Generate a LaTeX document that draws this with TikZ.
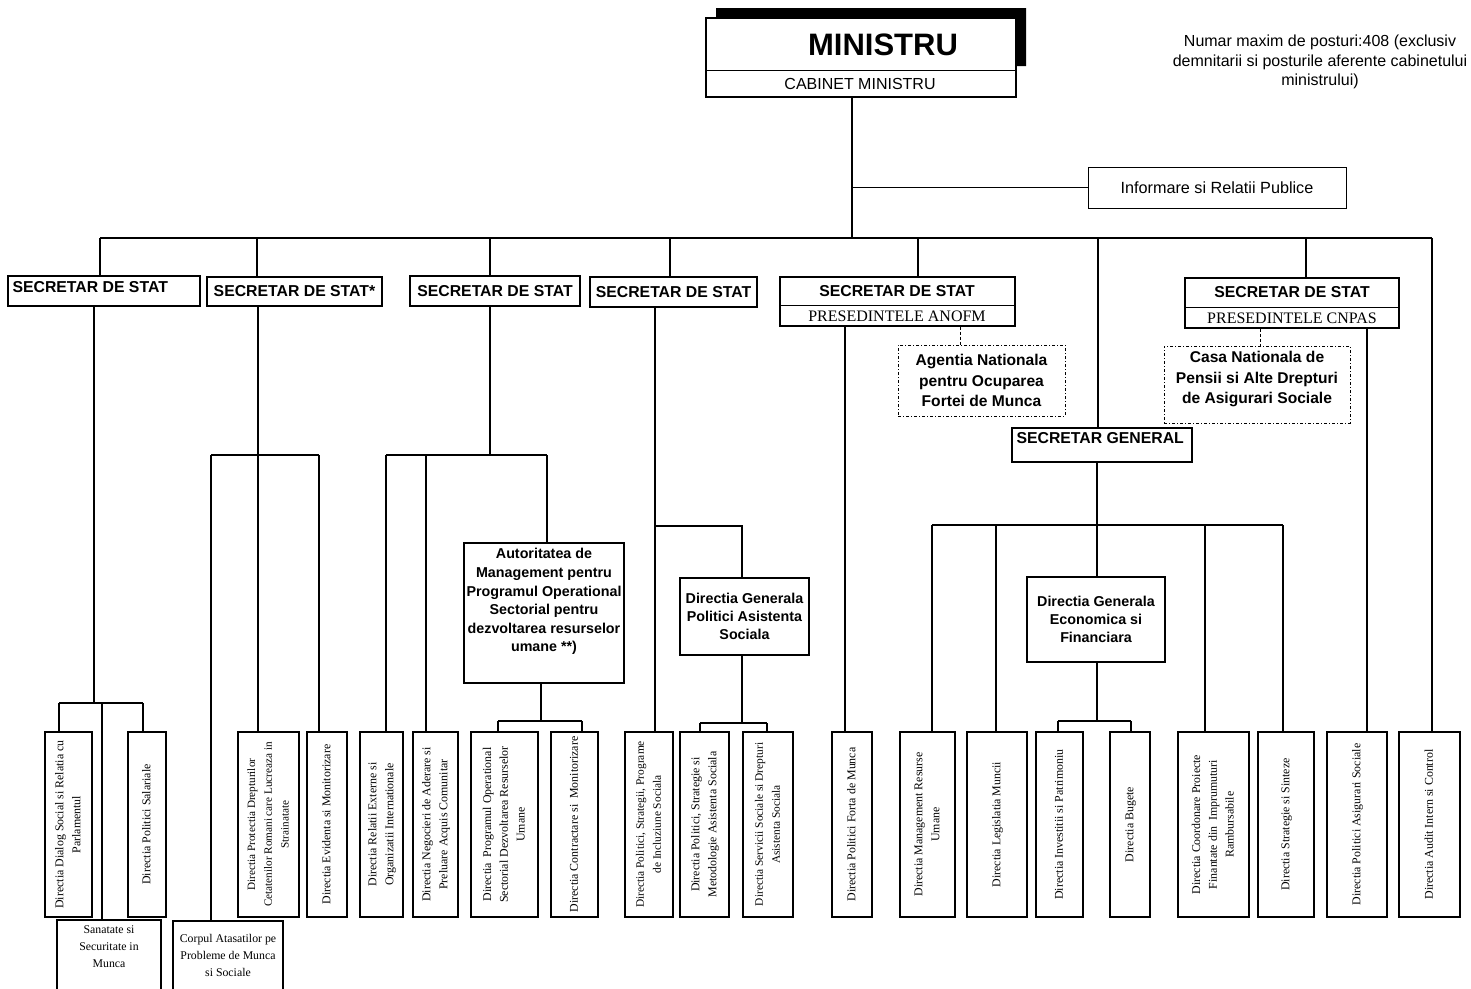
\documentclass[tikz,border=0pt]{standalone}
\usepackage{fontspec}
\usepackage{graphicx}
\setmainfont{Liberation Serif}
\newfontfamily\sansf{Liberation Sans}
\newcommand\vtxt[1]{\rotatebox{90}{\begin{tabular}{@{}c@{}}#1\end{tabular}}}
% \boxat[style]{name}{x1}{y1}{x2}{y2}{text}
\newcommand\boxat[7][]{\node[#1, minimum width={#5-#3}, minimum height={#6-#4}] (#2) at ({(#3+#5)/2},{(#4+#6)/2}) {#7};}
\begin{document}
\begin{tikzpicture}[x=1pt,y=-1pt,
  conn/.style={line width=1.1pt},
  dconn/.style={line width=1pt, dash pattern=on 3pt off 2pt},
  box/.style={draw, line width=1.3pt, inner sep=0pt},
  vbox/.style={box, line width=1.5pt, font=\fontsize{11.9}{16.8}\selectfont},
  ssfont/.style={font=\sansf\bfseries\fontsize{15.8}{18}\selectfont},
  ss/.style={box, line width=1.1pt, ssfont},
  pres/.style={font=\fontsize{16}{18}\selectfont},
  dbox/.style={draw, line width=1pt, dash pattern=on 3pt off 2pt on 1pt off 2pt, inner sep=0pt},
  bsans/.style={font=\sansf\bfseries\fontsize{15.6}{20.5}\selectfont, align=center},
  gbox/.style={box, line width=1.2pt, font=\sansf\bfseries\fontsize{14.3}{18.2}\selectfont, align=center},
  stext/.style={font=\fontsize{11.8}{17}\selectfont, align=center},
]
\useasboundingbox (0,0) rectangle (1471,988);

% ---------- top ----------
\fill (716,8) -- (1026,8) -- (1026,66) -- (1016,66) -- (1016,18) -- (716,18) -- cycle;
\boxat[box]{min}{706}{18}{1016}{97}{}
\coordinate (mdiv) at (0,70);
\draw[line width=1pt] (min.west |- mdiv) -- (min.east |- mdiv);
\node[font=\sansf\bfseries\fontsize{31}{36}\selectfont] (minT) at (883,45) {MINISTRU};
\node[font=\sansf\fontsize{16}{18}\selectfont] (cab) at (860,84) {CABINET MINISTRU};

\node[font=\sansf\fontsize{16}{19.5}\selectfont, align=center] (note) at (1320,62)
  {Numar maxim de posturi:408 (exclusiv\\demnitarii si posturile aferente cabinetului\\ministrului)};

\boxat[box, line width=1pt, font=\sansf\fontsize{16.2}{18}\selectfont]{info}{1088}{167}{1346}{208}{Informare si Relatii Publice}

\coordinate (tr) at (852,238);
\draw[conn] (min.south -| tr) -- (tr);
\draw[conn] (info.west -| tr) -- (info.west);

\coordinate (busL) at (100,238);
\coordinate (busR) at (1432,238);
\draw[conn] (busL) -- (busR);

% ---------- secretari de stat ----------
\boxat[ss]{ss1}{8}{276}{200}{306}{}
\node[ssfont, anchor=west] (ss1T) at (9,287) {SECRETAR DE STAT};
\boxat[ss]{ss2}{207}{277}{382}{306}{SECRETAR DE STAT*}
\boxat[ss]{ss3}{410}{276}{580}{306}{SECRETAR DE STAT}
\boxat[ss]{ss4}{590}{277}{757}{307}{SECRETAR DE STAT}

\boxat[box, line width=1.1pt]{ss5}{780}{277}{1015}{326}{}
\coordinate (s5div) at (0,305);
\draw[line width=1pt] (ss5.west |- s5div) -- (ss5.east |- s5div);
\node[ssfont] (ss5T) at (897,291) {SECRETAR DE STAT};
\node[pres] (ss5P) at (897,316) {PRESEDINTELE ANOFM};

\boxat[box, line width=1.1pt]{ss6}{1185}{278}{1399}{328}{}
\coordinate (s6div) at (0,307);
\draw[line width=1pt] (ss6.west |- s6div) -- (ss6.east |- s6div);
\node[ssfont] (ss6T) at (1292,292) {SECRETAR DE STAT};
\node[pres] (ss6P) at (1292,318) {PRESEDINTELE CNPAS};

\coordinate (b2) at (257,238);
\coordinate (b3) at (490,238);
\coordinate (b4) at (670,238);
\coordinate (b5) at (918,238);
\coordinate (b6) at (1306,238);
\coordinate (b7) at (1098,238);
\draw[conn] (busL) -- (busL |- ss1.north);
\draw[conn] (b2) -- (b2 |- ss2.north);
\draw[conn] (b3) -- (b3 |- ss3.north);
\draw[conn] (b4) -- (b4 |- ss4.north);
\draw[conn] (b5) -- (b5 |- ss5.north);
\draw[conn] (b6) -- (b6 |- ss6.north);

% ---------- agencies (dashed) ----------
\boxat[dbox, bsans]{anofm}{898}{345}{1065}{416}{Agentia Nationala\\pentru Ocuparea\\Fortei de Munca}
\boxat[dbox]{cnpas}{1164}{346}{1350}{423}{}
\node[bsans] (cnpasT) at (1257,379) {Casa Nationala de\\Pensii si Alte Drepturi\\de Asigurari Sociale};
\coordinate (d5) at (960,330);
\coordinate (d6) at (1260,330);
\draw[dconn] (d5 |- ss5.south) -- (d5 |- anofm.north);
\draw[dconn] (d6 |- ss6.south) -- (d6 |- cnpas.north);

% ---------- secretar general ----------
\boxat[box, line width=1.1pt]{sg}{1012}{428}{1192}{462}{}
\node[ssfont, anchor=west] (sgT) at (1013,438) {SECRETAR GENERAL};
\draw[conn] (b7) -- (b7 |- sg.north);

% ---------- intermediate boxes ----------
\boxat[gbox]{aut}{464}{543}{624}{683}{}
\node[font=\sansf\bfseries\fontsize{14.3}{18.6}\selectfont, align=center, anchor=north] (autT) at (544,545)
  {Autoritatea de\\Management pentru\\Programul Operational\\Sectorial pentru\\dezvoltarea resurselor\\umane **)};
\boxat[gbox]{dgp}{680}{578}{809}{655}{Directia Generala\\Politici Asistenta\\Sociala}
\boxat[gbox]{dge}{1027}{577}{1165}{662}{Directia Generala\\Economica si\\Financiara}

% ---------- bottom row ----------
\boxat[vbox]{dialog}{45}{732}{92}{917}{\vtxt{Directia Dialog Social si Relatia cu\\Parlamentul}}
\boxat[vbox]{salar}{128}{732}{166}{917}{\vtxt{Directia Politici Salariale}}
\boxat[vbox, font=\fontsize{11.2}{16.8}\selectfont]{protec}{238}{732}{299}{917}{\vtxt{Directia Protectia Drepturilor\\Cetatenilor Romani care Lucreaza in\\Strainatate}}
\boxat[vbox]{evid}{307}{732}{347}{917}{\vtxt{Directia Evidenta si Monitorizare}}
\boxat[vbox]{relat}{360}{732}{403}{917}{\vtxt{Directia Relatii Externe si\\Organizatii Internationale}}
\boxat[vbox]{negoc}{413}{732}{458}{917}{\vtxt{Directia Negocieri de Aderare si\\Preluare Acquis Comunitar}}
\boxat[vbox]{progop}{471}{732}{538}{917}{\vtxt{Directia~ Programul Operational\\Sectorial Dezvoltarea Resurselor\\Umane}}
\boxat[vbox]{contr}{551}{732}{598}{917}{\vtxt{Directia Contractare si~ Monitorizare}}
\boxat[vbox, font=\fontsize{11.4}{16.8}\selectfont]{incl}{625}{732}{673}{917}{\vtxt{Directia Politici, Strategii, Programe\\de Incluziune Sociala}}
\boxat[vbox]{metod}{680}{732}{729}{917}{\vtxt{Directia Politici, Strategie si\\Metodologie Asistenta Sociala}}
\boxat[vbox, font=\fontsize{11.4}{16.8}\selectfont]{serv}{743}{732}{793}{917}{\vtxt{Directia Servicii Sociale si Drepturi\\Asistenta Sociala}}
\boxat[vbox]{forta}{832}{732}{872}{917}{\vtxt{Directia Politici Forta de Munca}}
\boxat[vbox]{mgmt}{900}{732}{955}{917}{\vtxt{Directia Management Resurse\\Umane}}
\boxat[vbox]{legis}{967}{732}{1027}{917}{\vtxt{Directia Legislatia Muncii}}
\boxat[vbox]{invest}{1036}{732}{1083}{917}{\vtxt{Directia Investitii si Patrimoniu}}
\boxat[vbox]{bug}{1110}{732}{1150}{917}{\vtxt{Directia Bugete}}
\boxat[vbox]{coord}{1178}{732}{1249}{917}{\vtxt{Directia Coordonare Proiecte\\Finantate din~ Imprumuturi\\Rambursabile}}
\boxat[vbox]{strat}{1258}{732}{1314}{917}{\vtxt{Directia Strategie si Sinteze}}
\boxat[vbox]{asig}{1327}{732}{1387}{917}{\vtxt{Directia Politici Asigurari Sociale}}
\boxat[vbox]{audit}{1399}{732}{1460}{917}{\vtxt{Directia Audit Intern si Control}}

\boxat[box, line width=1.2pt]{sanat}{57}{920}{161}{992}{}
\node[stext] (sanatT) at (109,947) {Sanatate si\\Securitate in\\Munca};
\boxat[box, line width=1.2pt]{corp}{173}{921}{283}{992}{}
\node[stext] (corpT) at (228,955) {Corpul Atasatilor pe\\Probleme de Munca\\si Sociale};

% ---------- SS1 branch ----------
\coordinate (k1) at (94,703);
\coordinate (k1l) at (59,703);
\coordinate (k1r) at (143,703);
\coordinate (k1m) at (102,703);
\draw[conn] (k1 |- ss1.south) -- (k1);
\draw[conn] (k1l) -- (k1r);
\draw[conn] (k1l) -- (k1l |- dialog.north);
\draw[conn] (k1r) -- (k1r |- salar.north);
\draw[conn] (k1m) -- (k1m |- sanat.north);

% ---------- SS2 branch ----------
\coordinate (k2) at (258,455);
\coordinate (k2l) at (211,455);
\coordinate (k2r) at (319,455);
\draw[conn] (k2 |- ss2.south) -- (k2 |- protec.north);
\draw[conn] (k2l) -- (k2r);
\draw[conn] (k2l) -- (k2l |- corp.north);
\draw[conn] (k2r) -- (k2r |- evid.north);

% ---------- SS3 branch ----------
\coordinate (k3) at (490,455);
\coordinate (k3l) at (386,455);
\coordinate (k3m) at (426,455);
\coordinate (k3r) at (547,455);
\draw[conn] (k3 |- ss3.south) -- (k3);
\draw[conn] (k3l) -- (k3r);
\draw[conn] (k3l) -- (k3l |- relat.north);
\draw[conn] (k3m) -- (k3m |- negoc.north);
\draw[conn] (k3r) -- (k3r |- aut.north);
\coordinate (k3b) at (541,721);
\coordinate (k3bl) at (498,721);
\coordinate (k3br) at (582,721);
\draw[conn] (k3b |- aut.south) -- (k3b);
\draw[conn] (k3bl) -- (k3br);
\draw[conn] (k3bl) -- (k3bl |- progop.north);
\draw[conn] (k3br) -- (k3br |- contr.north);

% ---------- SS4 branch ----------
\coordinate (k4) at (655,526);
\coordinate (k4r) at (742,526);
\draw[conn] (k4 |- ss4.south) -- (k4 |- incl.north);
\draw[conn] (k4) -- (k4r) -- (k4r |- dgp.north);
\coordinate (k4b) at (742,723);
\coordinate (k4bl) at (700,723);
\coordinate (k4br) at (767,723);
\draw[conn] (k4b |- dgp.south) -- (k4b);
\draw[conn] (k4bl) -- (k4br);
\draw[conn] (k4bl) -- (k4bl |- metod.north);
\draw[conn] (k4br) -- (k4br |- serv.north);

% ---------- SS5, SS6, audit ----------
\coordinate (k5) at (845,330);
\draw[conn] (k5 |- ss5.south) -- (k5 |- forta.north);
\coordinate (k6) at (1367,330);
\draw[conn] (k6 |- ss6.south) -- (k6 |- asig.north);
\draw[conn] (busR) -- (busR |- audit.north);

% ---------- SG branch ----------
\coordinate (k7) at (1097,525);
\coordinate (k7l) at (932,525);
\coordinate (k7a) at (996,525);
\coordinate (k7b) at (1205,525);
\coordinate (k7r) at (1283,525);
\draw[conn] (k7 |- sg.south) -- (k7 |- dge.north);
\draw[conn] (k7l) -- (k7r);
\draw[conn] (k7l) -- (k7l |- mgmt.north);
\draw[conn] (k7a) -- (k7a |- legis.north);
\draw[conn] (k7b) -- (k7b |- coord.north);
\draw[conn] (k7r) -- (k7r |- strat.north);
\coordinate (k8) at (1097,721);
\coordinate (k8l) at (1058,721);
\coordinate (k8r) at (1131,721);
\draw[conn] (k8 |- dge.south) -- (k8);
\draw[conn] (k8l) -- (k8r);
\draw[conn] (k8l) -- (k8l |- invest.north);
\draw[conn] (k8r) -- (k8r |- bug.north);
\end{tikzpicture}
\end{document}
